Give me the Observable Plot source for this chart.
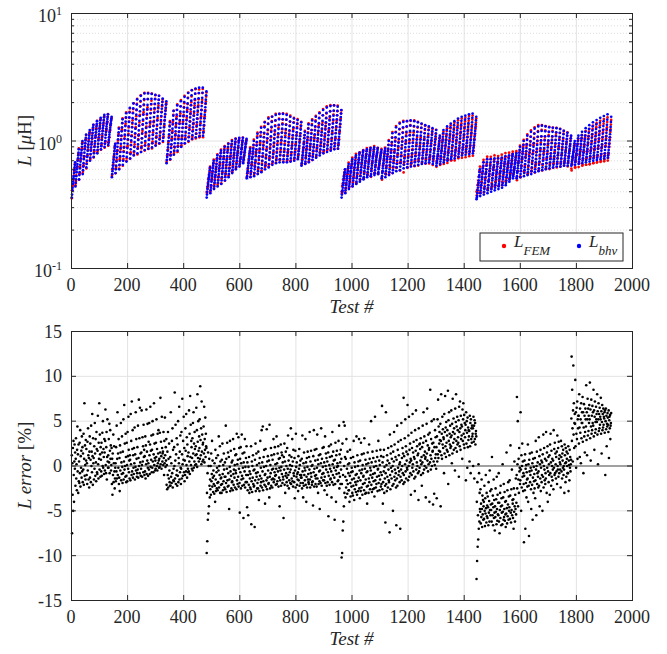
<!DOCTYPE html>
<html><head><meta charset="utf-8">
<script src="https://cdn.jsdelivr.net/npm/d3@7"></script>
<script src="https://cdn.jsdelivr.net/npm/@observablehq/plot@0.6"></script>
<style>body{margin:0;background:#fff}#chart svg{display:block}#chart svg text,#chart svg tspan{font-family:"Liberation Serif",serif !important}</style>
</head><body><div id="chart"></div>
<script>
// L_bhv per column of tests, in units of 0.01 µH (13 tests per column)
const L_1a=[[36,38,41,43,46,48,51,53,56,59,62,65,68],[44,47,50,53,57,60,63,66,70,73,77,81,86],[50,54,57,61,65,69,73,77,81,85,90,95,100],[55,59,63,67,72,76,81,86,91,96,101,106,112],[62,66,70,75,79,84,89,94,99,105,110,116,122],[70,74,79,84,89,94,99,105,110,116,122,128,134],[75,80,85,90,95,100,106,111,117,123,130,136,143],[80,85,90,95,101,107,113,119,125,131,138,145,152],[86,91,96,102,108,114,120,126,132,139,146,153,160],[90,95,100,106,112,118,124,130,136,142,149,155,162],[93,97,102,107,112,117,122,127,133,138,144,149,155]];
const L_1b=[[52,55,58,61,64,68,71,75,79,83,87,91,95],[56,60,64,69,74,79,84,90,96,103,110,117,125],[60,65,70,76,82,88,95,102,110,119,128,138,148],[65,70,76,82,89,96,104,112,121,131,142,153,165],[69,75,81,88,95,103,111,120,130,141,153,167,182],[73,79,86,93,101,109,118,128,139,151,165,180,197],[77,83,90,98,106,115,125,136,148,161,176,193,212],[80,87,94,102,111,121,132,144,157,171,187,206,226],[82,89,97,105,114,124,135,147,161,176,193,213,236],[85,92,100,108,117,127,138,150,163,177,192,213,236],[87,94,102,110,119,129,140,152,165,179,195,214,234],[89,96,104,112,121,131,142,154,167,181,196,213,230],[92,99,107,115,124,134,145,157,170,183,197,211,226],[96,103,110,118,127,136,146,157,168,179,191,203,215],[100,106,113,120,128,136,145,154,163,173,183,194,205]];
const L_1c=[[67,71,75,79,84,89,94,100,106,113,121,130,140],[72,77,82,88,94,101,108,116,125,135,146,158,172],[78,84,90,96,103,111,119,128,138,149,161,175,190],[84,90,96,103,110,118,127,136,146,157,170,187,205],[90,96,103,110,118,127,136,146,157,169,183,202,222],[96,103,110,118,127,136,146,157,169,182,197,217,238],[100,107,115,123,132,142,153,164,177,191,207,228,250],[104,111,119,128,137,147,158,170,183,197,213,235,258],[107,114,122,131,140,150,161,173,186,200,216,238,262],[109,116,124,133,142,152,163,175,188,202,218,239,262],[110,117,125,133,142,151,161,172,184,197,211,228,245]];
const L_2a=[[36,38,40,42,44,46,48,50,52,54,56,59,62],[39,41,43,45,48,50,53,55,58,61,64,67,70],[42,44,47,49,52,54,57,60,63,66,70,73,77],[44,47,49,52,55,58,61,64,68,72,76,80,84],[46,49,52,55,58,61,64,68,72,76,81,85,90],[49,52,55,58,61,65,68,72,76,81,85,90,95],[52,55,58,61,65,68,72,76,81,85,90,95,100],[56,59,62,66,69,73,77,81,85,89,94,99,104],[60,63,66,70,73,77,80,84,88,92,97,101,106],[63,66,69,72,75,79,82,86,89,93,97,101,106],[67,70,72,75,78,81,84,87,90,94,97,100,104]];
const L_2b=[[51,53,56,58,61,64,67,70,73,76,80,83,87],[52,55,58,61,64,68,72,75,79,83,87,93,100],[53,56,60,63,67,71,76,81,86,92,98,106,114],[55,58,62,66,71,76,81,87,93,100,108,117,127],[57,61,65,70,75,80,86,92,99,107,116,128,140],[60,64,68,73,78,84,90,97,105,113,123,136,150],[62,66,71,76,81,87,94,101,109,118,129,141,155],[65,69,74,79,84,90,97,104,112,121,131,145,160],[67,71,76,81,87,93,100,107,115,124,134,148,163],[68,72,77,82,88,94,101,108,116,125,135,148,163],[68,72,77,82,87,93,100,107,115,124,134,147,160],[68,72,76,81,86,92,98,105,112,121,131,142,155],[69,73,77,82,87,92,98,104,111,119,128,139,150],[70,74,78,82,87,92,98,104,110,117,126,136,146],[72,75,79,83,87,92,97,103,109,115,123,131,140]];
const L_2c=[[64,67,70,74,77,81,85,89,94,99,105,111,118],[66,69,73,77,81,86,91,96,102,108,115,125,135],[68,72,76,80,85,90,95,101,107,114,122,133,145],[71,75,79,84,89,94,100,106,113,121,130,142,155],[74,78,83,88,93,99,105,112,120,128,138,151,165],[77,81,86,91,97,103,110,117,125,134,144,159,175],[80,85,90,95,101,108,115,123,131,140,151,166,183],[82,87,92,98,104,111,118,126,135,145,156,171,188],[84,89,94,100,106,113,120,128,137,147,158,173,190],[86,91,96,102,108,115,122,130,139,148,159,172,186],[87,92,97,102,108,114,121,128,136,145,154,164,175]];
const L_3a=[[36,38,40,41,43,45,47,49,51,53,55,57,60],[39,41,43,45,47,49,51,53,56,58,61,63,66],[42,44,46,48,51,53,56,58,61,63,66,69,72],[44,46,49,51,54,56,59,62,65,67,70,74,77],[46,48,51,53,56,59,62,65,68,71,74,78,81],[48,50,53,56,59,62,65,68,71,74,77,81,84],[50,52,55,58,61,64,67,70,73,76,79,83,86],[52,54,57,60,63,66,69,72,75,78,81,85,88],[53,55,58,61,64,67,70,73,76,79,82,86,89],[54,56,59,62,65,68,71,74,77,79,82,85,88],[55,57,60,62,65,67,70,72,75,77,80,82,85]];
const L_3b=[[51,53,56,58,61,64,67,70,73,76,80,83,87],[52,55,58,61,64,68,72,75,79,83,87,93,100],[54,57,60,64,68,72,76,81,86,92,98,106,115],[56,59,63,67,71,76,81,86,92,99,107,117,128],[58,62,66,70,75,80,85,91,97,104,113,124,137],[59,63,67,71,76,81,87,93,99,107,116,128,141],[61,65,69,73,78,83,89,95,101,109,118,130,143],[62,66,70,74,79,84,90,96,103,111,120,132,145],[63,67,71,75,80,85,91,97,104,111,120,131,143],[64,68,72,76,81,86,91,97,103,110,118,129,140],[65,69,73,77,81,86,91,97,103,110,117,127,137],[66,69,73,77,81,86,91,96,102,108,115,124,133],[67,70,74,78,82,86,91,96,101,107,114,122,130],[68,71,75,78,82,86,91,96,101,106,112,119,126],[66,69,73,76,80,84,88,93,98,103,109,115,122]];
const L_3c=[[64,67,70,73,76,79,83,87,91,95,100,105,110],[66,69,72,76,80,84,88,92,97,102,108,115,122],[68,71,75,79,83,87,92,97,102,108,114,122,130],[70,73,77,81,85,90,95,100,106,112,119,128,137],[72,75,79,83,88,93,98,104,110,117,124,133,143],[73,77,81,85,90,95,101,107,114,121,129,139,150],[75,79,83,87,92,98,104,110,117,125,133,144,155],[77,81,85,89,94,100,106,112,119,127,136,147,158],[78,82,86,91,96,101,107,114,121,129,138,150,162],[79,83,87,92,97,102,108,115,122,130,140,152,164],[80,84,88,92,97,102,108,114,120,127,135,145,155]];
const L_4a=[[35,36,37,39,41,43,45,47,49,52,54,57,60],[37,39,41,43,45,47,50,52,55,58,61,64,68],[38,40,42,44,47,49,52,55,57,60,64,68,72],[39,41,43,45,48,50,53,55,58,61,64,68,72],[40,42,44,46,49,51,54,56,59,62,65,69,73],[41,43,45,47,50,52,55,57,60,63,66,69,73],[42,44,46,48,51,53,56,58,61,64,67,70,74],[43,45,47,50,52,55,57,60,63,66,69,72,76],[45,47,49,52,54,57,59,62,64,67,70,73,77],[48,50,52,54,57,59,62,64,67,70,73,76,79],[51,53,55,57,59,61,63,66,68,71,74,77,80]];
const L_4b=[[51,53,56,58,61,64,67,70,73,77,81,85,90],[52,55,58,61,64,68,72,75,79,83,87,93,100],[53,56,59,62,66,70,74,78,83,88,94,102,110],[54,57,60,64,68,72,76,81,86,92,99,108,118],[55,58,62,66,70,74,79,84,90,96,104,114,125],[57,60,64,68,72,77,82,87,93,100,108,118,130],[58,61,65,69,73,78,83,88,94,101,109,120,132],[59,62,66,70,74,78,83,88,94,101,109,119,130],[60,63,67,71,75,79,84,89,95,101,109,118,128],[61,64,68,72,76,80,85,90,96,102,109,118,127],[62,65,69,72,76,80,85,90,96,102,109,117,126],[63,66,69,73,77,81,86,91,96,102,108,116,124],[63,66,69,73,77,81,85,90,95,100,106,113,120],[64,67,70,73,77,81,85,89,94,99,104,110,116],[64,67,70,73,76,80,83,87,91,95,100,105,110]];
const L_4c=[[64,66,69,71,74,76,79,82,85,88,92,96,100],[65,68,71,74,77,80,84,87,91,95,100,105,110],[66,69,72,75,79,82,86,90,95,100,105,111,118],[67,70,73,77,81,85,89,94,99,104,110,118,126],[68,71,75,79,83,87,92,97,103,109,116,124,133],[69,72,76,80,84,89,94,100,106,113,121,130,140],[70,73,77,81,86,91,96,102,109,116,124,135,146],[71,74,78,82,87,92,98,104,111,119,128,139,152],[72,75,79,84,89,94,100,107,114,122,131,143,157],[73,76,80,85,90,96,102,109,116,124,134,147,162],[74,77,81,85,90,95,101,107,113,121,129,141,155]];

// L error per test, in units of 0.1 %, same column layout
const E_1a=[[12,-75,3,-32,20,-50,28,-10,-40,5,24,-3,15],[-22,8,31,-14,2,-27,18,44,-6,13,-30,24,-17],[5,-19,26,-8,40,-23,11,-2,17,-13,33,-6,21],[-18,14,-4,36,-21,8,70,-11,23,1,-15,29,6],[19,-10,3,-20,27,-5,42,12,-15,9,-24,16,33],[-13,25,7,-18,45,0,16,-7,58,11,-21,31,3],[9,-15,22,-3,48,14,-11,30,4,-17,38,19,-7],[-9,17,56,2,-14,26,8,70,-4,35,13,-12,21],[7,-6,26,-11,15,37,0,50,-2,19,10,-9,30],[15,-5,28,63,1,-8,21,38,-15,10,52,5,-2],[12,-2,30,4,47,-8,17,40,8,23,-5,1,20]];
const E_1b=[[-20,8,-32,14,-10,35,-18,3,22,-6,-25,-14,-2],[3,-17,21,-6,45,-14,8,60,-10,14,-2,30,-20],[-13,9,-28,23,-5,15,48,-16,4,-9,33,-1,-19],[16,-8,52,-15,5,68,-4,25,0,-12,36,10,-18],[-11,26,1,-17,38,11,-3,55,18,-7,6,-14,12],[7,-16,58,2,28,-10,72,-6,19,40,-13,12,-2],[-9,20,3,43,-15,13,-1,60,-5,30,8,-12,-8],[21,-4,45,-13,9,74,0,31,-8,65,4,14,-11],[-3,15,62,1,-12,32,5,22,-7,46,10,18,-10],[11,-6,33,-14,23,2,63,-9,16,6,47,-2,-11],[3,27,-4,48,12,-9,24,66,-1,17,7,34,-7],[18,-2,50,5,35,-7,13,70,1,25,9,-5,6],[-3,26,10,52,0,19,-5,36,3,14,40,6,-2],[8,-1,37,15,76,2,27,11,-3,55,20,5,14],[16,1,38,9,-10,28,3,54,12,-1,21,6,30]];
const E_1c=[[-21,1,-26,16,-10,38,-24,8,-14,25,-5,-18,-22],[10,-22,60,-12,3,-19,28,-8,42,-24,18,-16,-3],[-17,21,0,82,-14,6,46,-20,13,-10,31,-5,-22],[24,-11,50,-18,9,3,66,-15,16,-7,34,-2,-20],[-3,38,-14,13,75,2,-11,28,7,55,-7,20,-17],[6,-10,42,17,-6,58,1,32,-13,24,11,-3,-7],[15,-6,62,5,36,-9,78,10,46,1,28,21,-3],[9,31,-5,48,14,60,-2,25,5,38,19,1,12],[22,2,65,13,40,-1,80,27,9,50,17,5,33],[20,52,8,89,29,12,42,2,72,16,35,5,24],[26,7,44,14,66,4,30,18,54,10,36,22,20]];
const E_2a=[[-97,-30,-84,-8,-60,15,-53,0,-45,8,-22,-35,-15],[-26,0,-32,14,-17,-9,28,-23,6,-13,-29,-5,-20],[-11,-31,3,-22,-40,18,-15,-28,9,-7,-25,-2,-19],[-27,12,-18,-5,33,-24,0,-10,22,-30,5,-14,-21],[-13,-30,7,-20,25,-9,-27,1,-17,14,-4,-24,-12],[4,-26,-12,45,-19,8,-29,-3,26,-16,-23,15,-8],[-22,10,-48,-15,-1,28,-28,-6,17,-11,-25,4,-18],[-17,6,-27,30,-9,-21,-4,19,-13,1,-24,12,-5],[-8,13,-26,36,-16,2,-20,7,-12,32,-23,-3,20],[-19,-52,8,-7,21,-25,3,-15,35,-11,-22,14,-2],[-14,-58,4,-21,15,-6,30,-24,-1,-18,9,-10,22]];
const E_2b=[[-18,-46,4,-27,-10,-55,-1,-21,10,-30,-6,-14,-24],[-9,-26,22,-65,-17,5,-29,0,-13,12,-20,-5,-23],[-22,-4,-68,7,-16,25,-28,-8,14,-12,1,-25,-19],[-7,-25,16,-15,-38,3,-28,9,-11,28,-22,-2,-18],[-14,40,-24,4,-6,44,-27,-17,10,-1,18,-21,-10],[-42,-9,19,-23,0,-16,41,-26,5,-13,11,-5,-20],[-19,6,-35,46,-12,-25,1,-8,20,-22,12,-15,-4],[-24,7,-14,-3,30,-18,13,-15,-7,21,-11,2,-21],[-10,-3,33,-20,3,-17,14,-6,22,-23,8,-13,-2],[-45,9,-16,-5,24,-22,-1,15,-9,12,-19,4,-12],[-15,-58,10,-4,25,-21,5,-30,-11,16,-8,0,-18],[-13,20,-22,-3,34,-10,6,-25,-16,12,-7,1,-19],[-4,42,-20,10,-14,0,30,-17,5,-23,18,-8,-11],[-18,9,-36,-5,17,-24,36,-1,-12,4,-21,-9,-15],[-7,-28,11,-16,-3,19,-22,1,-10,6,-19,-13,-10]];
const E_2c=[[-13,8,-25,34,-6,-19,-35,3,-22,15,-10,-2,-16],[-5,30,-21,4,-40,-12,9,-24,-1,16,-15,-9,-18],[-20,10,-4,38,-15,-24,5,-8,17,-12,0,-21,-18],[1,-17,-44,11,-7,40,-23,-3,18,-11,6,-20,-14],[-10,19,-23,-2,35,-14,7,-30,2,-20,12,-6,-17],[-48,-5,13,-19,3,42,-13,-22,8,-9,20,-1,-16],[-8,21,-16,4,-27,-12,33,-19,0,14,-4,9,-22],[-32,5,-18,-7,15,-56,-11,22,1,-21,10,-3,-15],[-14,24,-6,-35,11,-18,38,2,-10,16,-21,6,-2],[-13,-60,7,-20,26,-5,-40,12,-9,17,-1,3,-17],[0,-16,28,-8,45,-25,13,-12,4,-20,18,-4,8]];
const E_3a=[[-102,-20,-97,25,-72,-10,-62,49,-45,0,-30,45,10],[-12,-35,8,-24,30,-16,-3,-31,16,-20,2,-8,-27],[-27,3,-40,-11,18,-19,-34,9,-7,-23,-2,-15,-30],[-6,-33,10,-22,28,-14,-38,4,-26,-1,-18,-10,-29],[-21,33,-9,-32,12,-17,0,-28,5,-13,30,-25,-5],[-36,6,-16,-28,26,-8,-24,13,-4,-32,1,-20,-12],[-11,14,-27,31,-19,-3,-31,7,-15,-30,2,-7,-23],[-42,-6,15,-22,3,-30,-14,24,-18,8,-26,-2,-10],[-5,50,-21,4,-29,-13,16,-26,-9,9,-17,-1,-25],[-34,-8,55,-16,5,-24,0,-20,17,-12,10,-28,-4],[-3,28,-19,-11,6,-27,1,-15,18,-7,-23,11,-20]];
const E_3b=[[-10,67,-26,4,-42,-18,10,-6,18,-30,-1,-14,-22],[-63,-8,60,-20,1,-28,12,-12,6,-24,20,-4,-16],[-18,3,-74,35,-10,-26,14,-2,22,-14,8,-6,-22],[0,-50,16,-20,5,38,-12,24,-4,-16,10,-8,-24],[-66,7,-14,45,-22,18,-2,27,-10,12,-6,2,-18],[4,-70,-12,29,-4,48,-16,9,0,20,-8,14,-20],[76,-10,11,-18,31,2,52,-6,22,-14,16,6,-2],[-4,68,13,-16,34,0,55,-12,18,4,25,-8,8],[-32,6,37,-10,20,-2,58,2,15,-6,27,10,-14],[8,-28,40,-12,17,62,-4,29,4,22,0,12,-8],[14,-38,42,-6,24,-2,25,19,6,31,-10,2,10],[-22,21,4,45,-8,26,60,12,-4,33,0,16,8],[10,-35,28,-2,47,14,64,6,23,-6,35,2,18],[20,-40,37,4,85,12,-4,30,8,50,0,25,16],[17,-43,26,5,52,-31,21,1,40,9,32,13,-3]];
const E_3c=[[21,-36,33,5,52,13,74,9,44,17,25,38,29],[16,47,-45,28,80,12,36,8,55,24,41,20,32],[30,-8,58,14,38,78,22,43,10,49,26,18,34],[40,16,84,-20,51,28,60,12,36,24,45,20,32],[22,62,34,3,47,14,75,38,26,53,18,42,30],[36,-5,64,20,49,80,28,44,16,55,24,40,32],[26,51,-12,66,38,22,72,42,18,56,30,46,34],[44,8,63,28,52,70,36,24,57,20,48,32,40],[46,-16,60,25,50,37,-2,54,21,43,29,40,33],[39,5,56,22,48,-8,52,30,42,26,45,33,36],[42,0,55,27,45,-14,51,30,48,24,36,39,33]];
const E_4a=[[-126,-40,-106,-18,-90,-55,-82,2,-70,-8,-62,-30,-48],[-51,-26,-64,-42,-57,-15,-48,-68,-33,-54,-38,-60,-45],[-40,-59,-22,-50,-67,-36,-53,-10,-47,-63,-30,-56,-44],[-58,-34,-46,-66,-18,-52,-39,-62,-5,-49,-28,-55,-43],[-49,-26,-62,10,-42,-55,-33,-66,-46,-15,-58,-38,-52],[-72,-45,-57,-25,-51,-37,-65,-12,-48,-61,-32,-54,-41],[-55,-8,-62,-41,-75,-49,-30,-58,-22,-45,-66,-36,-52],[-44,-65,2,-51,-35,-60,-20,-57,-48,-29,-61,-40,-54],[-68,-39,-53,15,-47,-64,-27,-56,-43,-18,-60,-34,-50],[-46,-16,-59,-33,23,-52,-63,-26,-49,-4,-55,-38,-42],[-58,-37,-70,-25,-51,5,-45,-62,-32,-48,-14,-54,-41]];
const E_4b=[[-10,77,-25,2,50,-45,-15,8,-30,20,-6,-2,-20],[-16,60,-4,-50,12,-24,0,25,-12,5,-28,-8,-20],[-85,-11,6,-27,13,-70,-3,-19,1,-35,-7,-15,-23],[-14,24,-40,2,-22,-78,7,-6,14,-18,-10,-2,-26],[-48,-5,15,-21,3,-60,-13,8,-30,-1,-17,-9,-25],[9,-36,-16,28,-4,-55,0,16,-20,-8,4,-12,-24],[-6,32,-22,11,-45,2,-14,18,-28,-2,6,-18,-10],[4,-50,13,-12,35,-24,0,20,-4,-16,8,-20,-8],[-14,38,6,-30,15,-2,22,-40,-6,10,-18,2,-10],[12,-32,24,-8,36,4,-22,17,-12,0,8,-16,-4],[6,-26,40,-2,19,-10,26,-8,14,2,-14,10,-6],[16,-20,34,0,-4,20,-12,27,8,-8,12,4,-4],[2,-24,28,10,-6,22,-14,14,6,-2,18,-10,0],[-4,-30,24,12,3,-18,20,4,-12,16,8,0,-8],[14,-8,22,-28,6,1,-16,18,-2,10,-6,2,7]];
const E_4c=[[53,122,28,85,42,5,62,112,35,70,20,48,58],[47,96,22,60,-2,36,65,30,72,8,52,42,56],[56,25,80,43,10,64,37,52,3,70,31,48,60],[48,77,27,60,-8,43,69,33,56,15,38,64,52],[44,90,29,60,12,52,75,34,64,39,56,48,68],[52,93,31,63,6,44,74,36,56,40,67,48,60],[45,85,33,62,18,55,72,37,49,41,66,52,58],[49,80,35,61,2,52,70,39,58,42,65,46,55],[52,76,36,61,14,49,68,40,58,43,64,46,55],[53,60,37,62,-10,50,64,41,56,22,47,44,59],[54,46,38,62,9,51,55,42,57,30,45,48,59]];

const xTicks=[0,200,400,600,800,1000,1200,1400,1600,1800,2000];
const errTicks=[-15,-10,-5,0,5,10,15];
const logMajor=[0.1,1,10];
const logExp=["-1","0","1"];
const logMinor=[0.2,0.3,0.4,0.5,0.6,0.7,0.8,0.9,2,3,4,5,6,7,8,9];

(function(){
const Lsets=[L_1a,L_1b,L_1c,L_2a,L_2b,L_2c,L_3a,L_3b,L_3c,L_4a,L_4b,L_4c];
const Esets=[E_1a,E_1b,E_1c,E_2a,E_2b,E_2c,E_3a,E_3b,E_3c,E_4a,E_4b,E_4c];
const rows=[];
let t=0;
Lsets.forEach((cols,g)=>cols.forEach((col,c)=>{
  const ec=(Esets[g][c])||[];
  const n=Math.min(col.length,ec.length);
  for(let k=0;k<n;k++){
    t++;
    const bhv=col[k]/100, err=ec[k]/10;
    rows.push({test:t,bhv,fem:bhv/(1+err/100),err});
  }
}));

const FONT="Liberation Serif", INK="#262626", GRID="#e3e3e3";
const W=667, H1=320, H2=334, ML=71, MR=35, MB1=52, MB2=54;
const PW=W-ML-MR;
const PH1=H1-13-MB1, PH2=H2-11-MB2;
const style={fontFamily:FONT,fontSize:"18px",color:INK,background:"#fff",overflow:"visible"};

const topPlot=Plot.plot({
  width:W,height:H1,marginLeft:ML,marginRight:MR,marginTop:13,marginBottom:MB1,style,
  x:{domain:[0,2000],axis:null},
  y:{type:"log",domain:[0.1,10],axis:null},
  marks:[
    Plot.ruleX(xTicks.slice(1,-1),{stroke:GRID,strokeWidth:1}),
    Plot.ruleY(logMinor,{stroke:"#d4d4d4",strokeWidth:0.8,strokeDasharray:"1,2"}),
    Plot.ruleY([1],{stroke:GRID,strokeWidth:1}),
    Plot.dot(rows,{x:"test",y:"fem",r:1.35,fill:"#ff0000"}),
    Plot.dot(rows,{x:"test",y:"bhv",r:1.35,fill:"#0000ff"}),
    Plot.ruleX(xTicks,{stroke:INK,insetTop:PH1-5}),
    Plot.ruleX(xTicks,{stroke:INK,insetBottom:PH1-5}),
    Plot.ruleY(logMajor,{stroke:INK,insetRight:PW-5}),
    Plot.ruleY(logMajor,{stroke:INK,insetLeft:PW-5}),
    Plot.ruleY(logMinor,{stroke:INK,insetRight:PW-3}),
    Plot.ruleY(logMinor,{stroke:INK,insetLeft:PW-3}),
    Plot.frame({stroke:INK,strokeWidth:1})
  ]
});

const bottomPlot=Plot.plot({
  width:W,height:H2,marginLeft:ML,marginRight:MR,marginTop:11,marginBottom:MB2,style,
  x:{domain:[0,2000],axis:null},
  y:{domain:[-15,15],axis:null},
  marks:[
    Plot.ruleX(xTicks.slice(1,-1),{stroke:GRID,strokeWidth:1}),
    Plot.ruleY([-10,-5,5,10],{stroke:GRID,strokeWidth:1}),
    Plot.ruleY([0],{stroke:"#808080",strokeWidth:1.6}),
    Plot.dot(rows,{x:"test",y:"err",r:1.3,fill:"#000"}),
    Plot.ruleX(xTicks,{stroke:INK,insetTop:PH2-5}),
    Plot.ruleX(xTicks,{stroke:INK,insetBottom:PH2-5}),
    Plot.ruleY(errTicks,{stroke:INK,insetRight:PW-5}),
    Plot.ruleY(errTicks,{stroke:INK,insetLeft:PW-5}),
    Plot.frame({stroke:INK,strokeWidth:1})
  ]
});

const chart=document.getElementById("chart");
chart.appendChild(topPlot);
chart.appendChild(bottomPlot);

function addText(sel,x,y,anchor,size,txt,italic){
  const tx=sel.append("text").attr("x",x).attr("y",y).attr("text-anchor",anchor)
    .attr("fill",INK).attr("font-family",FONT).style("font-family",FONT).style("font-size",size+"px");
  if(italic) tx.style("font-style","italic");
  if(txt!=null) tx.text(txt);
  return tx;
}

const st=d3.select(topPlot), sb=d3.select(bottomPlot);
const xsT=topPlot.scale("x"), ysT=topPlot.scale("y");
const xsB=bottomPlot.scale("x"), ysB=bottomPlot.scale("y");

// x tick labels
xTicks.forEach(v=>{
  addText(st,xsT.apply(v),H1-MB1+22.5,"middle",18,String(v));
  addText(sb,xsB.apply(v),H2-MB2+22.5,"middle",18,String(v));
});
// bottom y tick labels
errTicks.forEach(v=>addText(sb,ML-9,ysB.apply(v)+6.5,"end",18,String(v)));
// log tick labels 10^n
logMajor.forEach((v,i)=>{
  const tx=addText(st,ML-9,ysT.apply(v)+9,"end",18,null);
  tx.append("tspan").text("10");
  tx.append("tspan").attr("dy",-7).style("font-size","12px").text(logExp[i]);
});
// axis titles
addText(st,ML+PW/2,H1-7,"middle",19,"Test #",true);
addText(sb,ML+PW/2,H2-9,"middle",19,"Test #",true);
const yl1=addText(st,0,0,"middle",19,null).attr("transform",`translate(31,${13+PH1/2}) rotate(-90)`);
yl1.append("tspan").style("font-style","italic").text("L");
yl1.append("tspan").text(" [");
yl1.append("tspan").style("font-style","italic").text("μ");
yl1.append("tspan").text("H]");
const yl2=addText(sb,0,0,"middle",19,null).attr("transform",`translate(31,${11+PH2/2}) rotate(-90)`);
yl2.append("tspan").style("font-style","italic").text("L error");
yl2.append("tspan").text(" [%]");

// legend
const lg=st.append("g");
lg.append("rect").attr("x",480).attr("y",233).attr("width",143).attr("height",28).attr("fill","#fff").attr("stroke",INK);
lg.append("circle").attr("cx",504).attr("cy",246).attr("r",2.2).attr("fill","#ff0000");
lg.append("circle").attr("cx",579).attr("cy",246).attr("r",2.2).attr("fill","#0000ff");
function legText(x,sub){
  const tx=addText(lg,x,247,"start",17,null,true);
  tx.append("tspan").text("L");
  tx.append("tspan").attr("dy",8).style("font-size","13px").text(sub);
}
legText(514,"FEM");
legText(589,"bhv");
})();
</script>
</body></html>
